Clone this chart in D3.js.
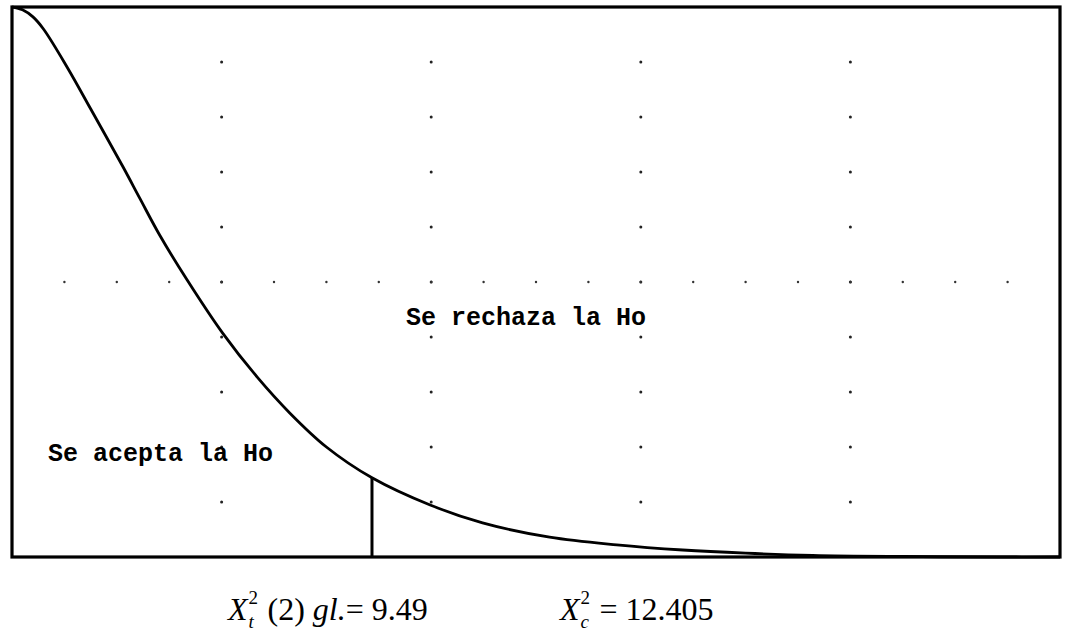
<!DOCTYPE html>
<html>
<head>
<meta charset="utf-8">
<script src="https://cdn.jsdelivr.net/npm/d3@7"></script>
<style>
  html, body { margin: 0; padding: 0; background: #fff; }
  svg { display: block; }
</style>
</head>
<body>
<svg id="chart" width="1065" height="639"></svg>
<script>
// ---- data (percent of plot width / height) ----
const curveX = [0, 1, 2, 3, 5.25, 7.5, 10.6, 12.2, 14.1, 16.7, 20.1, 23.4, 26.5, 30, 34.35, 39.9, 44.9, 51.3, 57.7, 64, 70, 76.4, 85, 94.3, 100];
const curveY = [100, 99.5, 98.2, 96.0, 89.1, 81.5, 70.9, 65.2, 58.5, 50.4, 40.7, 32.7, 26.2, 20.0, 14.4, 9.45, 6.2, 3.6, 2.2, 1.27, 0.7, 0.3, 0.1, 0, 0];
const criticalX = 34.35;
const gridXLines = [20, 40, 60, 80];
const gridYLines = [50];
const regionLabels = ["Se rechaza la Ho", "Se acepta la Ho"];
const tableValueLabel = "9.49";
const calcValueLabel = "12.405";

const svg = d3.select("#chart");
const M = { left: 12, top: 7, right: 1060, bottom: 557 };
const x = d3.scaleLinear().domain([0, 100]).range([M.left, M.right]);
const y = d3.scaleLinear().domain([0, 100]).range([M.bottom, M.top]);

// grid dots
const g = svg.append("g");
const vDots = [];
gridXLines.forEach(gx => d3.range(10, 100, 10).forEach(gy => vDots.push([gx, gy])));
const hDots = [];
gridYLines.forEach(gy => d3.range(5, 100, 5).forEach(gx => hDots.push([gx, gy])));
g.selectAll("circle.v").data(vDots).join("circle")
  .attr("cx", d => x(d[0])).attr("cy", d => y(d[1])).attr("r", 1.5).attr("fill", "#222");
g.selectAll("circle.h").data(hDots).join("circle")
  .attr("cx", d => x(d[0])).attr("cy", d => y(d[1])).attr("r", 1.2).attr("fill", "#333");

// frame
svg.append("rect")
  .attr("x", M.left).attr("y", M.top)
  .attr("width", M.right - M.left).attr("height", M.bottom - M.top)
  .attr("fill", "none").attr("stroke", "#000").attr("stroke-width", 3.2);

// curve
const pts = curveX.map((d, i) => [d, curveY[i]]);
svg.append("path").datum(pts)
  .attr("fill", "none").attr("stroke", "#000").attr("stroke-width", 2.8)
  .attr("d", d3.line().x(d => x(d[0])).y(d => y(d[1])).curve(d3.curveCatmullRom.alpha(0.5)));

// critical line
const critY = d3.scaleLinear().domain(curveX).range(curveY)(criticalX);
svg.append("line")
  .attr("x1", x(criticalX)).attr("x2", x(criticalX))
  .attr("y1", y(0)).attr("y2", y(critY))
  .attr("stroke", "#000").attr("stroke-width", 3);

// region labels
const monoFont = "'Liberation Mono', 'Courier New', monospace";
svg.append("text").attr("x", 406).attr("y", 325)
  .attr("font-family", monoFont).attr("font-weight", "bold").attr("font-size", 25).attr("fill", "#000")
  .text(regionLabels[0]);
svg.append("text").attr("x", 48).attr("y", 461)
  .attr("font-family", monoFont).attr("font-weight", "bold").attr("font-size", 25).attr("fill", "#000")
  .text(regionLabels[1]);

// bottom formulas (single text element each, with tspans for sup/sub)
const FS = 32;
const SS = 19;
function formula(x0, baseline, sub, tail) {
  const t = svg.append("text")
    .attr("x", x0).attr("y", baseline)
    .attr("font-family", "'Liberation Serif', 'DejaVu Serif', serif")
    .attr("font-size", FS).attr("fill", "#000").attr("xml:space", "preserve");
  const X = t.append("tspan").attr("font-style", "italic").text("X");
  const wX = X.node().getComputedTextLength();
  const sx = x0 + wX + 1;
  t.append("tspan").attr("x", sx).attr("y", baseline - 16).attr("font-size", SS).text("2");
  t.append("tspan").attr("x", sx).attr("y", baseline + 8).attr("font-size", SS).attr("font-style", "italic").text(sub);
  let first = true;
  tail.forEach(p => {
    const ts = t.append("tspan").attr("y", baseline)
      .attr("font-style", p.i ? "italic" : "normal").text(p.s);
    if (first) { ts.attr("x", sx + 11); first = false; }
  });
}
formula(228, 620, "t", [{ s: " (2) " }, { s: "gl.", i: true }, { s: "= " + tableValueLabel }]);
formula(560, 620, "c", [{ s: " = " + calcValueLabel }]);
</script>
</body>
</html>
